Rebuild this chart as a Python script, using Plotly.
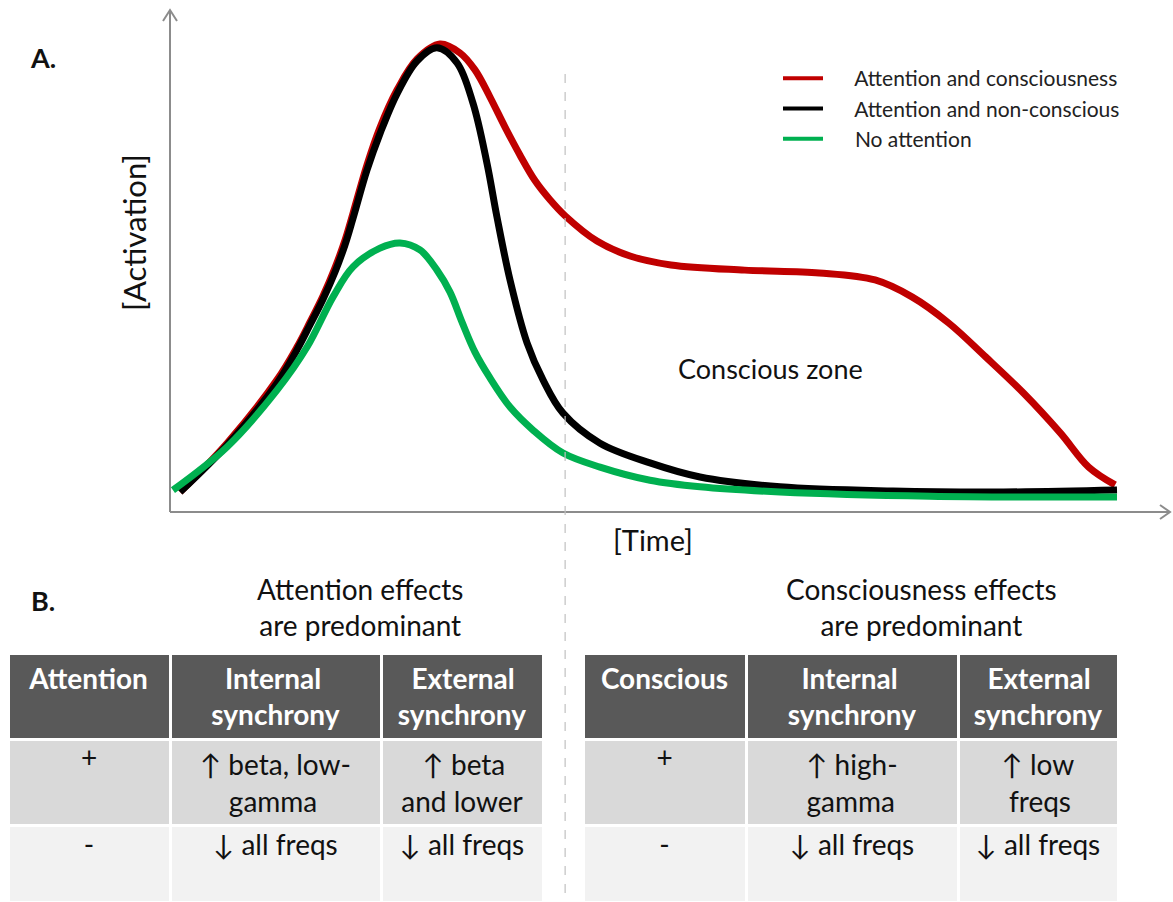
import plotly.graph_objects as go

# ---------------- data ----------------
# time in arbitrary units (0..100), activation in arbitrary units (0..1)
time_red = [0.85, 5.82, 11.11, 13.23, 14.60, 15.98, 17.25, 18.31, 19.15, 20.63, 22.01, 23.81,
            25.93, 28.36, 30.48, 32.06, 33.65, 35.24, 36.83, 38.41, 40.0, 41.59, 44.97, 48.47,
            52.8, 60.6, 68.5, 74.4, 78.3, 82.2, 86.1, 90.1, 94.0, 97.0, 99.8]
act_red = [0.047, 0.151, 0.286, 0.356, 0.409, 0.465, 0.525, 0.584, 0.641, 0.744, 0.824, 0.904,
           0.970, 1.002, 0.983, 0.947, 0.889, 0.825, 0.765, 0.711, 0.670, 0.636, 0.582, 0.550,
           0.531, 0.520, 0.514, 0.499, 0.463, 0.407, 0.335, 0.258, 0.173, 0.100, 0.062]

time_black = [0.85, 5.82, 11.11, 13.23, 14.60, 15.98, 17.25, 18.31, 19.15, 20.63, 22.01, 23.81,
              25.93, 28.04, 30.16, 31.85, 33.33, 34.39, 35.77, 37.57, 39.26, 41.38, 45.29, 50.58,
              55.87, 64.34, 76.3, 88.0, 100.0]
act_black = [0.047, 0.147, 0.279, 0.350, 0.403, 0.458, 0.516, 0.574, 0.630, 0.733, 0.811, 0.896,
             0.966, 0.994, 0.962, 0.876, 0.748, 0.633, 0.499, 0.365, 0.286, 0.215, 0.151, 0.109,
             0.079, 0.058, 0.049, 0.047, 0.051]

time_green = [0.1, 5.82, 11.11, 14.29, 17.04, 19.15, 22.01, 24.13, 26.24, 28.04, 29.42, 30.69,
              32.06, 33.65, 35.77, 38.2, 41.38, 45.29, 50.58, 55.87, 64.34, 80.2, 100.0]
act_green = [0.051, 0.143, 0.264, 0.356, 0.463, 0.527, 0.567, 0.578, 0.563, 0.520, 0.473, 0.409,
             0.345, 0.290, 0.228, 0.179, 0.130, 0.100, 0.072, 0.058, 0.047, 0.038, 0.036]

series_names = ["Attention and consciousness", "Attention and non-conscious", "No attention"]
series_colors = ["#C00000", "#000000", "#00B050"]

conscious_boundary_time = 41.6

NB = "\u00a0"
left_title = "Attention effects<br>are predominant"
right_title = "Consciousness effects<br>are predominant"
left_header = ["<b>Attention</b>",
               "<b>" + NB * 2 + "Internal<br>synchrony</b>",
               "<b>" + NB * 2 + "External<br>synchrony</b>"]
left_cells = [["+", "-"],
              ["↑ beta, low-<br>" + NB * 4 + "gamma", "↓ all freqs"],
              [NB * 3 + "↑ beta<br>and lower", "↓ all freqs"]]
right_header = ["<b>Conscious</b>",
                "<b>" + NB * 2 + "Internal<br>synchrony</b>",
                "<b>" + NB * 2 + "External<br>synchrony</b>"]
right_cells = [["+", "-"],
               ["↑ high-<br>gamma", "↓ all freqs"],
               ["↑ low<br>" + NB + "freqs", "↓ all freqs"]]

# ---------------- layout helpers ----------------
W, H = 1173, 902
FONT = "Lato, 'Open Sans', sans-serif"


def px(x):
    return x / W


def py(y):
    return 1 - y / H


fig = go.Figure()

for t, a, name, color in zip([time_red, time_black, time_green],
                             [act_red, act_black, act_green],
                             series_names, series_colors):
    fig.add_trace(go.Scatter(x=t, y=a, mode="lines", name=name, showlegend=False,
                             line=dict(color=color, width=7, shape="spline", smoothing=1.0),
                             hoverinfo="skip"))
# legend entries (thinner sample lines as in the reference)
pad = NB * 5
for name, color in zip(series_names, series_colors):
    fig.add_trace(go.Scatter(x=[None], y=[None], mode="lines", name=pad + name,
                             line=dict(color=color, width=4)))

# axes geometry (pixel -> domain)
x_origin_px, x_end_px = 170, 1170
y_origin_px, y_top_px = 514, 10
px_per_t = 9.45
px_per_a = 469.0
x_range = [-(172 - x_origin_px) / px_per_t, (x_end_px - 172) / px_per_t]
y_range = [0, (y_origin_px - y_top_px) / px_per_a]

fig.update_layout(
    width=W, height=H,
    margin=dict(l=0, r=0, t=0, b=0),
    paper_bgcolor="white", plot_bgcolor="rgba(0,0,0,0)",
    xaxis=dict(domain=[px(x_origin_px), px(x_end_px)], range=x_range, visible=False, fixedrange=True),
    yaxis=dict(domain=[py(y_origin_px), py(y_top_px)], range=y_range, visible=False, fixedrange=True),
    legend=dict(x=px(778), y=py(58), xanchor="left", yanchor="top", bgcolor="rgba(0,0,0,0)",
                font=dict(family=FONT, size=21, color="#222"), itemwidth=40, tracegroupgap=0),
    font=dict(family=FONT),
)

axis_color = "#8c8c8c"
shapes = [
    dict(type="line", xref="paper", yref="paper", x0=px(170), x1=px(1170), y0=py(512), y1=py(512),
         line=dict(color=axis_color, width=2)),
    dict(type="line", xref="paper", yref="paper", x0=px(170), x1=px(170), y0=py(512), y1=py(10),
         line=dict(color=axis_color, width=2)),
    dict(type="path", xref="paper", yref="paper",
         path=f"M {px(1160)} {py(505)} L {px(1170)} {py(512)} L {px(1160)} {py(519)}",
         line=dict(color=axis_color, width=2)),
    dict(type="path", xref="paper", yref="paper",
         path=f"M {px(163)} {py(21)} L {px(170)} {py(10)} L {px(177)} {py(21)}",
         line=dict(color=axis_color, width=2)),
    dict(type="line", xref="x", yref="paper", x0=conscious_boundary_time, x1=conscious_boundary_time,
         y0=py(893), y1=py(68), line=dict(color="#c0c0c0", width=1.2, dash="dash")),
]
fig.update_layout(shapes=shapes)

ann = [
    dict(text="<b>A.</b>", x=px(43), y=py(57), font=dict(size=27, color="#111")),
    dict(text="<b>B.</b>", x=px(43), y=py(600), font=dict(size=27, color="#111")),
    dict(text="[Activation]", x=px(134), y=py(233), textangle=-90, font=dict(size=31, color="#111")),
    dict(text="[Time]", x=px(653), y=py(539), font=dict(size=29, color="#111")),
    dict(text="Conscious zone", x=px(770), y=py(368), font=dict(size=27, color="#111")),
    dict(text=left_title, x=px(360), y=py(607), font=dict(size=28, color="#111")),
    dict(text=right_title, x=px(921), y=py(607), font=dict(size=28, color="#111")),
]
for a in ann:
    a.update(xref="paper", yref="paper", showarrow=False, xanchor="center", yanchor="middle")
    a["font"]["family"] = FONT
fig.update_layout(annotations=ann)

header_fill = "#595959"
row_fills = ["#d9d9d9", "#f2f2f2"]


def add_table(x0, x1, colwidths, header, cells):
    fig.add_trace(go.Table(
        domain=dict(x=[px(x0), px(x1)], y=[0, py(653)]),
        columnwidth=colwidths,
        header=dict(values=header, fill_color=header_fill, align="center", height=85,
                    line=dict(color="white", width=3),
                    font=dict(family=FONT, size=28, color="white")),
        cells=dict(values=cells, fill_color=[row_fills] * len(cells), align="center", height=81,
                   line=dict(color="white", width=3),
                   font=dict(family=FONT, size=28, color="#111")),
    ))


add_table(8, 543, [162, 211, 162], left_header, left_cells)
add_table(583, 1118, [163, 212, 160], right_header, right_cells)

fig.write_html("out.html", config={"displayModeBar": False},
               post_script="document.body.style.margin='0px';")
